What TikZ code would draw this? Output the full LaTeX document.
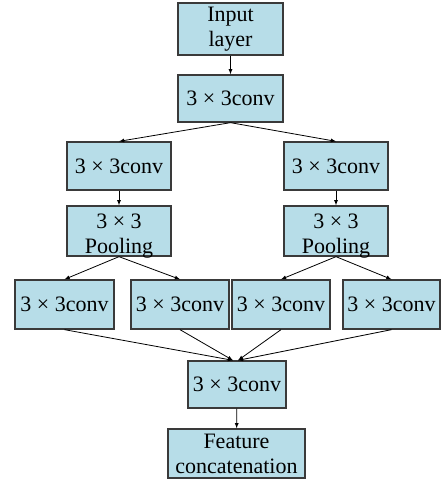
\documentclass[tikz,border=0pt]{standalone}
\usepackage{fontspec}
\setmainfont{Liberation Serif}
\usepackage{tikz}
\tikzset{>=latex}
\definecolor{boxblue}{HTML}{B7DDE8}
\definecolor{boxedge}{HTML}{3A3A3A}
\tikzset{
  layer/.style={draw=boxedge, line width=1.3pt, fill=boxblue, inner sep=0pt,
    align=center, font=\fontsize{22}{25}\selectfont,
    minimum width=104pt, minimum height=48pt},
  link/.style={->, line width=0.8pt}
}
\newcommand{\convtxt}{3\hspace{.25em}×\hspace{.25em}3conv}

\begin{document}
\begin{tikzpicture}[x=1pt, y=-1pt]
    \useasboundingbox (0,0) rectangle (441,480);

    % Top of the network
    \node[layer, minimum width=105pt, minimum height=52pt] (input) at (230.5,29) {Input\\layer};
    \node[layer, minimum width=105pt, minimum height=47pt] (conv0) at (230.5,98.5) {\convtxt};

    % Two branches
    \node[layer] (convL) at (119,166) {\convtxt};
    \node[layer] (convR) at (336,166) {\convtxt};
    \node[layer, minimum height=50pt, text height=44pt, text depth=0pt] (poolL) at (119,231) {3\hspace{.25em}×\hspace{.25em}3\\Pooling};
    \node[layer, minimum height=50pt, text height=44pt, text depth=0pt] (poolR) at (336,231) {3\hspace{.25em}×\hspace{.25em}3\\Pooling};

    % Four parallel convolutions
    \node[layer, minimum width=99pt, minimum height=49pt] (convA) at (64.5,304.5) {\convtxt};
    \node[layer, minimum width=98pt, minimum height=49pt] (convB) at (180,304.5) {\convtxt};
    \node[layer, minimum width=98pt, minimum height=49pt] (convC) at (281,304.5) {\convtxt};
    \node[layer, minimum width=97pt, minimum height=49pt] (convD) at (391.5,304.5) {\convtxt};

    % Merge and output
    \node[layer, minimum width=98pt, minimum height=47pt] (convout) at (237,384.5) {\convtxt};
    \node[layer, minimum width=137pt, minimum height=49pt] (feat) at (236.5,453.5) {Feature\\concatenation};

    % Connections
    \draw[link] (input) -- (conv0);
    \draw[link] (conv0.south) -- (convL.north);
    \draw[link] (conv0.south) -- (convR.north);
    \draw[link] (convL) -- (poolL);
    \draw[link] (convR) -- (poolR);
    \foreach \a/\b in {poolL/convA, poolL/convB, poolR/convC, poolR/convD} {
        \draw[link] (\a.south) -- (\b.north);
    }
    \foreach \b/\dx in {convA/-4, convB/-4, convC/1, convD/1} {
        \draw[link] (\b.south) -- ([xshift=\dx pt]convout.north);
    }
    \draw[link] (convout) -- (feat);
\end{tikzpicture}
\end{document}
